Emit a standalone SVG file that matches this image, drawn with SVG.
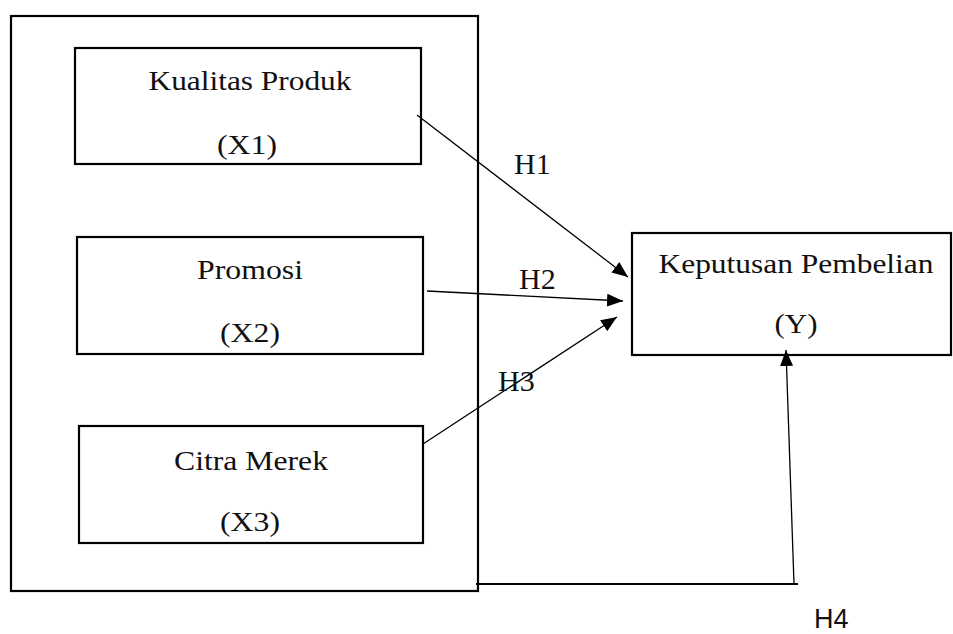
<svg xmlns="http://www.w3.org/2000/svg" width="953" height="634" viewBox="0 0 953 634">
<style>
.box{fill:none;stroke:#000;stroke-width:2.2}
.lbl{font-family:"Liberation Serif","Times New Roman",serif;font-size:28px;fill:#111;text-anchor:middle}
.h{font-family:"Liberation Serif","Times New Roman",serif;font-size:30px;fill:#111}
.h4{font-family:"Liberation Sans",Arial,sans-serif;font-size:27px;fill:#111}
.ln{fill:none;stroke:#000;stroke-width:1.3}
</style>
<defs>
<marker id="arr" markerUnits="userSpaceOnUse" markerWidth="18" markerHeight="14" refX="16" refY="6.5" orient="auto">
<path d="M0,0 L16,6.5 L0,13 Z" fill="#000"/>
</marker>
</defs>
<rect fill="#fff" x="0" y="0" width="953" height="634"/>
<g id="outer"><rect class="box" x="11" y="16" width="467" height="575"/></g>
<g id="x1">
<rect class="box" x="75" y="48" width="346" height="116"/>
<text class="lbl" x="250" y="90" textLength="203" lengthAdjust="spacingAndGlyphs">Kualitas Produk</text>
<text class="lbl" x="247" y="154" textLength="60" lengthAdjust="spacingAndGlyphs">(X1)</text>
</g>
<g id="x2">
<rect class="box" x="77" y="237" width="346" height="117"/>
<text class="lbl" x="250" y="279" textLength="106" lengthAdjust="spacingAndGlyphs">Promosi</text>
<text class="lbl" x="250" y="342" textLength="60" lengthAdjust="spacingAndGlyphs">(X2)</text>
</g>
<g id="x3">
<rect class="box" x="79" y="426" width="344" height="117"/>
<text class="lbl" x="251" y="470" textLength="154" lengthAdjust="spacingAndGlyphs">Citra Merek</text>
<text class="lbl" x="250" y="531" textLength="60" lengthAdjust="spacingAndGlyphs">(X3)</text>
</g>
<g id="y">
<rect class="box" x="632" y="233" width="319" height="122"/>
<text class="lbl" x="796" y="273" textLength="275" lengthAdjust="spacingAndGlyphs">Keputusan Pembelian</text>
<text class="lbl" x="796" y="333" textLength="43" lengthAdjust="spacingAndGlyphs">(Y)</text>
</g>
<g id="connectors">
<line class="ln" x1="417" y1="115" x2="628" y2="277" marker-end="url(#arr)"/>
<line class="ln" x1="427" y1="291" x2="623" y2="301" marker-end="url(#arr)"/>
<line class="ln" x1="423" y1="444" x2="617" y2="317" marker-end="url(#arr)"/>
<line class="ln" x1="476" y1="584" x2="798" y2="584" style="stroke-width:2"/>
<line class="ln" x1="794" y1="584" x2="786" y2="350" marker-end="url(#arr)"/>
</g>
<g id="labels">
<text class="h" x="514" y="174">H1</text>
<text class="h" x="519" y="289">H2</text>
<text class="h" x="498" y="391">H3</text>
<text class="h4" x="814" y="628">H4</text>
</g>
</svg>
